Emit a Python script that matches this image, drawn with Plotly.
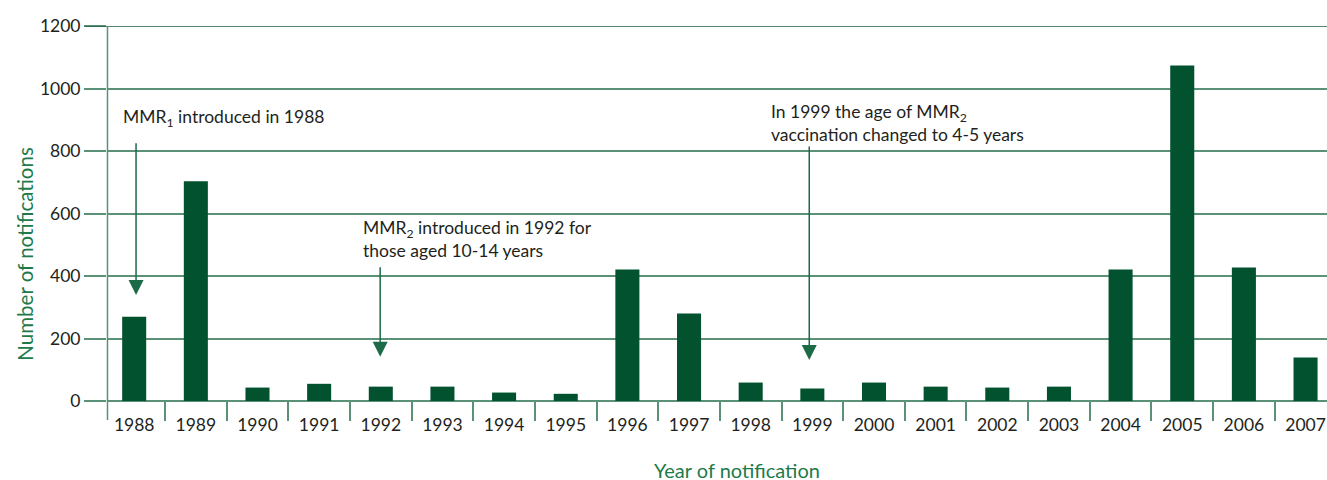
import plotly.graph_objects as go

years = ["1988", "1989", "1990", "1991", "1992", "1993", "1994", "1995", "1996", "1997",
         "1998", "1999", "2000", "2001", "2002", "2003", "2004", "2005", "2006", "2007"]
notifications = [270, 703, 43, 55, 46, 46, 27, 23, 421, 280,
                 59, 40, 59, 46, 43, 46, 421, 1074, 427, 139]
y_ticks = [0, 200, 400, 600, 800, 1000, 1200]

BAR = "#02522f"
GRID = "#5b9277"
GRID_DARK = "#1d5e3c"
TXT = "#231f20"
TITLE = "#1d7a4b"
FONT = "Lato"

fig = go.Figure()
fig.add_trace(go.Bar(x=years, y=notifications, marker=dict(color=BAR, line=dict(width=0)),
                     width=0.39, hoverinfo="x+y"))

fig.update_layout(
    width=1327, height=480,
    margin=dict(l=107, r=0, t=26, b=79, autoexpand=False),
    paper_bgcolor="white", plot_bgcolor="white",
    showlegend=False,
    font=dict(family=FONT, size=17.5, color=TXT),
    xaxis=dict(type="category", range=[-0.441, 19.348], tickson="boundaries", automargin=False,
               ticks="outside", ticklen=19, tickwidth=1.5, tickcolor=GRID,
               ticklabelstandoff=11,
               showgrid=False, showline=False, zeroline=False,
               tickfont=dict(family=FONT, size=17.5, color=TXT)),
    yaxis=dict(range=[0, 1200], tickvals=y_ticks, ticks="outside", ticklen=22, automargin=False,
               tickwidth=1.5, tickcolor=GRID, showgrid=True, gridcolor=GRID, gridwidth=1.5,
               zeroline=True, zerolinecolor=GRID, zerolinewidth=1.5, showline=False,
               tickfont=dict(family=FONT, size=17.5, color=TXT)),
)

# top frame line (darker) and y-axis line extending below the zero line
fig.add_shape(type="line", xref="paper", yref="y", x0=-0.018, x1=1, y0=1200, y1=1200,
              line=dict(color=GRID_DARK, width=1.5))
fig.add_shape(type="line", xref="paper", yref="paper", x0=0.0004, x1=0.0004, y0=-19/375, y1=1,
              line=dict(color=GRID, width=1.5))

# arrows (x positions as category index)
arrows = [(0.03, 339, 830), (3.99, 142, 433), (10.95, 131, 819)]
for xc, tip, start in arrows:
    fig.add_annotation(x=xc, y=tip, ax=xc, ay=start, xref="x", yref="y", axref="x", ayref="y",
                       text="", showarrow=True, arrowhead=2, arrowsize=2, arrowwidth=1.5,
                       arrowcolor="#1d6b46")

# annotation texts
notes = [
    (-0.219, 906, "MMR<sub>1</sub> introduced in 1988"),
    (3.674, 518, "MMR<sub>2</sub> introduced in 1992 for<br>those aged 10-14 years"),
    (10.297, 890, "In 1999 the age of MMR<sub>2</sub><br>vaccination changed to 4-5 years"),
]
for nx, ny, t in notes:
    fig.add_annotation(x=nx, y=ny, xref="x", yref="y", text=t, showarrow=False,
                       xanchor="left", yanchor="middle", align="left",
                       font=dict(family=FONT, size=17.5, color=TXT))

# axis titles
fig.add_annotation(x=0.516, y=-0.184, xref="paper", yref="paper", text="Year of notification",
                   showarrow=False, xanchor="center", yanchor="middle",
                   font=dict(family=FONT, size=20, color=TITLE))
fig.add_annotation(x=-0.0672, y=0.393, xref="paper", yref="paper", text="Number of notifications",
                   showarrow=False, textangle=-90, xanchor="center", yanchor="middle",
                   font=dict(family=FONT, size=20.5, color=TITLE))

fig.write_html("out.html", config={"displayModeBar": False},
               post_script="document.body.style.margin='0';document.body.style.overflow='hidden';")
